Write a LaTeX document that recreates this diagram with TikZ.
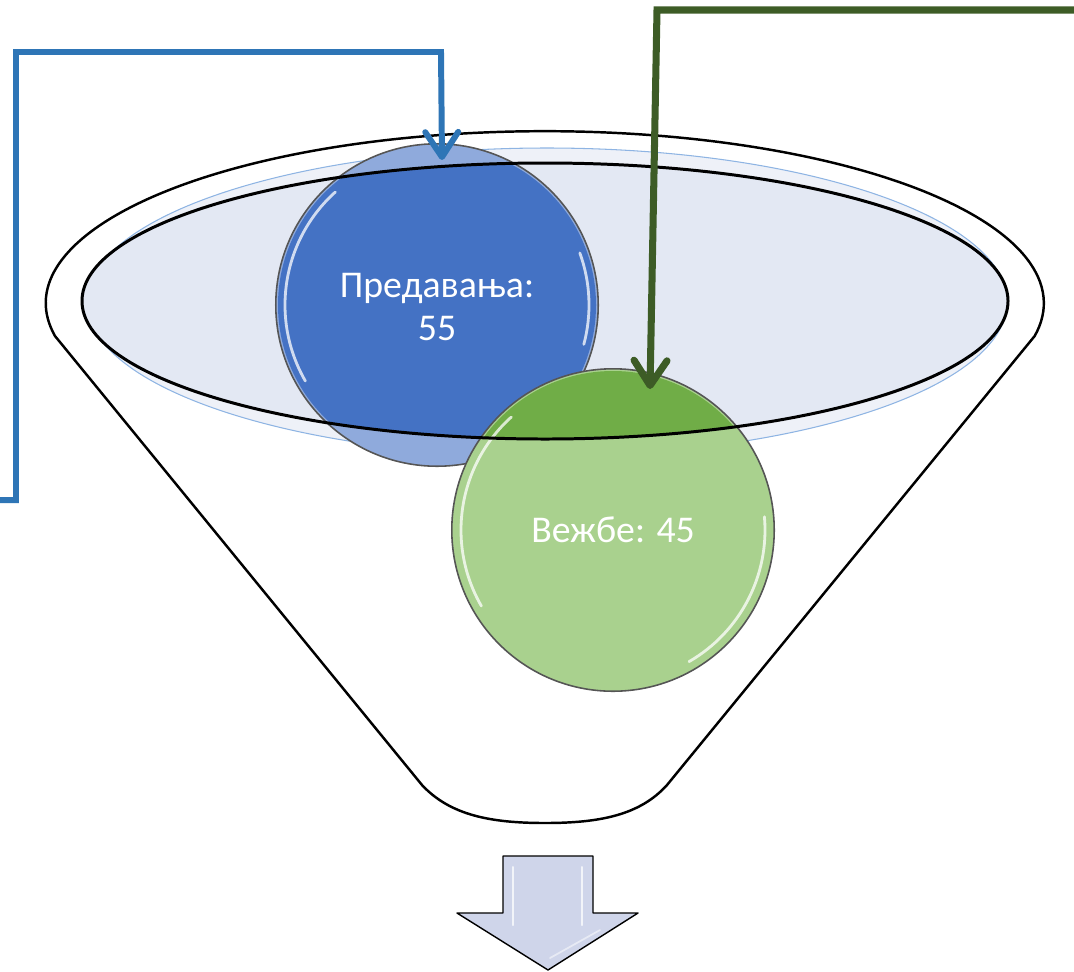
\documentclass[tikz,border=0pt]{standalone}
\usepackage{fontspec}
\setmainfont{Carlito}
\usetikzlibrary{arrows.meta}
\definecolor{predlight}{HTML}{8FAADC}
\definecolor{preddark}{HTML}{4472C4}
\definecolor{vezlight}{HTML}{A9D18E}
\definecolor{vezdark}{HTML}{70AD47}
\definecolor{circline}{HTML}{555555}
\definecolor{mouthfill}{HTML}{E3E8F3}
\definecolor{rimfill}{HTML}{EEF1F8}
\definecolor{rimline}{HTML}{8EB4E3}
\definecolor{outfill}{HTML}{CFD5EA}
\definecolor{bluewire}{HTML}{2E75B6}
\definecolor{greenwire}{HTML}{3D5C26}
\tikzset{
	circ/.style      = {draw=circline, line width=0.9pt, circle, minimum size=6.45cm, inner sep=0pt},
	lbl/.style       = {text=white, align=center, font=\fontsize{21.5}{24.5}\selectfont},
	hidden/.style    = {coordinate},
	funnel/.style    = {draw=black, line width=1.4pt, line join=round},
	mouthline/.style = {draw=black, line width=1.7pt},
	gloss/.style     = {draw=white, line width=1.6pt, opacity=0.75, line cap=round},
	bluelink/.style  = {draw=bluewire, line width=3.4pt, ->},
	greenlink/.style = {draw=greenwire, line width=4pt, ->},
}
\newcommand{\mouth}{(545,301) ellipse (463 and 138)}

\begin{document}
\begin{tikzpicture}[x=0.02cm, y=-0.02cm, >={Straight Barb[length=5mm, width=6.6mm, round]}]
	\useasboundingbox (0,0) rectangle (1074,971);

	% Draw the funnel
	\draw[funnel] (55,336) arc[start angle=169, end angle=371, x radius=499, y radius=172]
		-- (667,785) .. controls (640,815) and (600,823) .. (545,823)
		.. controls (490,823) and (450,815) .. (422,785) -- cycle;
	\draw[fill=rimfill, draw=rimline, line width=0.6pt] (547,302) ellipse (460 and 154);
	\fill[mouthfill] \mouth;

	% Draw the circles
	\node[circ, fill=predlight] (pred) at (437,305) {};
	\begin{scope}
		\clip \mouth;
		\fill[preddark] (pred.center) circle (159);
	\end{scope}
	\draw[gloss] (pred.center) ++(150:152) arc[start angle=150, end angle=228, radius=152];
	\draw[gloss] (pred.center) ++(15:152) arc[start angle=15, end angle=-20, radius=152];

	\node[circ, fill=vezlight] (vez) at (613,530) {};
	\begin{scope}
		\clip \mouth;
		\fill[vezdark] (vez.center) circle (159);
	\end{scope}
	\draw[gloss] (vez.center) ++(150:152) arc[start angle=150, end angle=228, radius=152];
	\draw[gloss] (vez.center) ++(60:152) arc[start angle=60, end angle=-5, radius=152];

	\draw[mouthline] \mouth;

	% Labels
	\node[lbl] (predtext) at (437,307) {Предавања:\\55};
	\node[lbl] (veztext) at (613,530) {Вежбе: 45};

	% Output arrow
	\draw[fill=outfill, line width=0.8pt, line join=round] (503,856) -- (593,856) -- (593,913) -- (638,913)
		-- (548,970) -- (457,913) -- (503,913) -- cycle;
	\draw[gloss, line width=1.2pt] (513,867) -- (513,925);
	\draw[gloss, line width=1.2pt] (582,867) -- (582,925);
	\draw[gloss, line width=1pt, opacity=0.5] (550,958) -- (600,930);

	% Connect everything together
	\draw
	node[hidden] (bluein)  at (0,500)    {}
	node[hidden] (blue1)   at (16,500)   {}
	node[hidden] (blue2)   at (16,52)    {}
	node[hidden] (blue3)   at (441,52)   {}
	node[hidden] (greenin) at (1074,10)  {}
	node[hidden] (green1)  at (657,10)   {};

	\draw[bluelink] (bluein) -- (blue1) -- (blue2) -- (blue3) -- ([shift={(5,17)}]pred.north);
	\draw[greenlink] (greenin) -- (green1) -- ([shift={(37,21)}]vez.north);
\end{tikzpicture}
\end{document}
